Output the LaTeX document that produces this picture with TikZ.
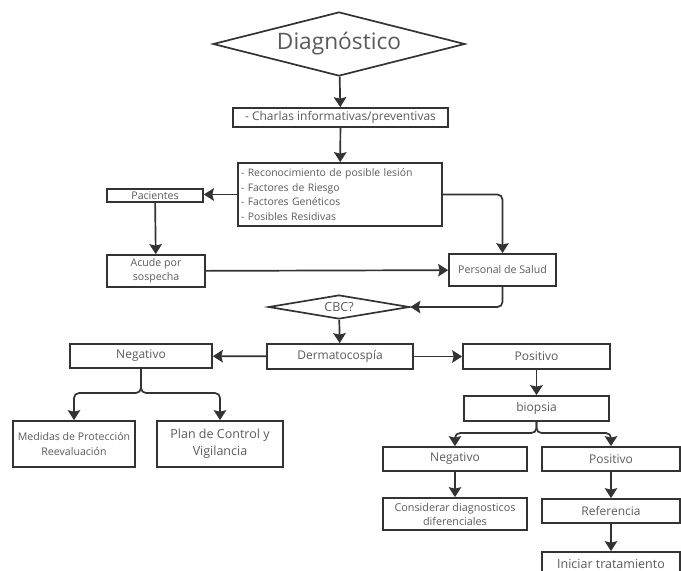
\documentclass[tikz,border=0pt]{standalone}
\usepackage{fontspec}
\setmainfont{Open Sans}
\usetikzlibrary{shapes.geometric,arrows.meta}

\definecolor{linea}{HTML}{333333}
\definecolor{texto}{HTML}{5A5A5A}

\tikzset{
  caja/.style={draw=linea, line width=1.7pt, inner sep=1pt, text=texto, align=center, font=\fontsize{12}{14}\selectfont},
  rombo/.style={draw=linea, line width=1.7pt, diamond, inner sep=0pt, text=texto},
  flecha/.style={-{Stealth[length=10pt,width=12.5pt,inset=1.5pt]}, line width=1.7pt, draw=linea, rounded corners=5pt}
}

\begin{document}
\begin{tikzpicture}[x=1pt, y=-1pt]

    \clip (0, 0) rectangle (681, 571);

    \node [rombo, shape aspect=4, minimum width=252pt, minimum height=64pt, font=\fontsize{22.7}{26}\selectfont] (a) at (339, 44) {Diagnóstico};
    \node [caja, minimum width=215pt, minimum height=19pt] (b) at (340.5, 117.5) {- Charlas informativas/preventivas};
    \node [caja, text width=198pt, inner sep=3pt, minimum height=63pt, align=left, font=\fontsize{10.4}{14.7}\selectfont] (c) at (340, 194.5) {- Reconocimiento de posible lesión\\- Factores de Riesgo\\- Factores Genéticos\\- Posibles Residivas};
    \node [caja, minimum width=96pt, minimum height=13pt, font=\fontsize{10.6}{12}\selectfont] (d) at (155, 195.5) {Pacientes};
    \node [caja, minimum width=98pt, minimum height=32pt, font=\fontsize{10.6}{14}\selectfont] (e) at (156, 271) {Acude por\\sospecha};
    \node [caja, minimum width=107pt, minimum height=32pt, font=\fontsize{10.6}{14}\selectfont] (f) at (502.5, 270) {Personal de Salud};
    \node [rombo, shape aspect=6, minimum width=141pt, minimum height=24pt, font=\fontsize{12.5}{14}\selectfont] (g) at (339, 307) {CBC?};
    \node [caja, minimum width=146pt, minimum height=25pt] (h) at (340, 356.5) {Dermatocospía};
    \node [caja, minimum width=142pt, minimum height=24pt] (i) at (141, 356) {Negativo};
    \node [caja, minimum width=147pt, minimum height=25pt] (j) at (536.5, 356.5) {Positivo};
    \node [caja, minimum width=145pt, minimum height=25pt] (k) at (536.5, 408.5) {biopsia};
    \node [caja, minimum width=122pt, minimum height=46pt, font=\fontsize{10.6}{15}\selectfont] (l) at (74, 444) {Medidas de Protección\\Reevaluación};
    \node [caja, minimum width=126pt, minimum height=46pt, font=\fontsize{12.5}{17}\selectfont] (m) at (220, 444) {Plan de Control y\\Vigilancia};
    \node [caja, minimum width=144pt, minimum height=24pt] (n) at (455, 459) {Negativo};
    \node [caja, minimum width=138pt, minimum height=24pt] (o) at (611, 459) {Positivo};
    \node [caja, minimum width=144pt, minimum height=32pt, font=\fontsize{10.8}{14}\selectfont] (p) at (455, 514) {Considerar diagnosticos\\diferenciales};
    \node [caja, minimum width=138pt, minimum height=24pt] (q) at (611, 511) {Referencia};
    \node [caja, minimum width=138pt, minimum height=34pt, text depth=10pt, font=\fontsize{12.5}{14}\selectfont] (r) at (611, 569) {Iniciar tratamiento};

    \coordinate (s) at (141, 393);
    \coordinate (t) at (536.5, 433);

    \draw [flecha] (a) to (b);
    \draw [flecha] (b) to (c);
    \draw [flecha] (c.west) to (c.west -| d.east);
    \draw [flecha] (d) to (e);
    \draw [flecha] (e) to (f);
    \draw [flecha] (c.east) -| (f.north);
    \draw [flecha] (f.south) |- (g.east);
    \draw [flecha] (g) to (h);
    \draw [flecha] (h) to (i);
    \draw [flecha] (h) to (j);
    \draw [flecha] (j) to (k);
    \draw [flecha] (i.south) -- (s) -| (l.north);
    \draw [flecha] (i.south) -- (s) -| (m.north);
    \draw [flecha] (k.south) -- (t) -| (n.north);
    \draw [flecha] (k.south) -- (t) -| (o.north);
    \draw [flecha] (n) to (p);
    \draw [flecha] (o) to (q);
    \draw [flecha] (q) to (r);

\end{tikzpicture}
\end{document}
